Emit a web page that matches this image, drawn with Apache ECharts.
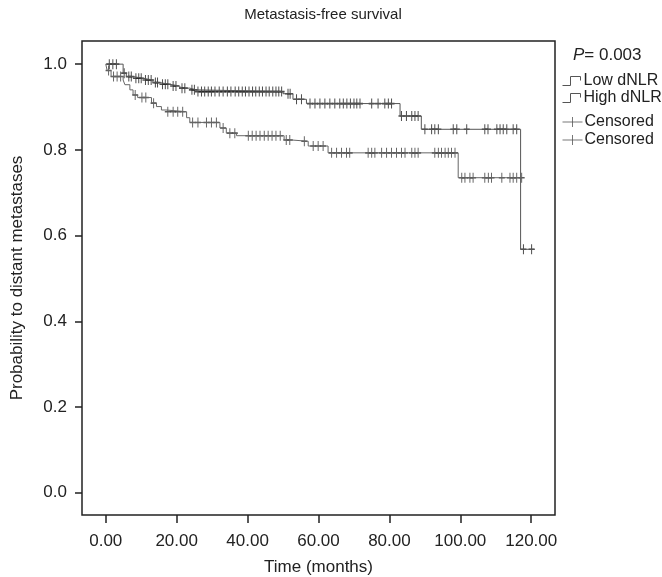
<!DOCTYPE html>
<html>
<head>
<meta charset="utf-8">
<script src="https://cdn.jsdelivr.net/npm/echarts@6/dist/echarts.min.js"></script>
<style>
  html, body { margin: 0; padding: 0; background: #fff; }
  #chart { width: 662px; height: 577px; }
</style>
</head>
<body>
<div id="chart"></div>
<script>
  // step points: [time, survival after the step]
  var lowSteps = [[0, 1.0], [4.9, 0.979], [5.8, 0.971], [7.7, 0.967], [10.5, 0.963], [13.3, 0.957], [15.2, 0.953],
    [18.0, 0.949], [20.9, 0.944], [23.7, 0.940], [25.6, 0.936], [50.0, 0.931], [52.8, 0.918], [56.6, 0.908],
    [83.0, 0.879], [89.0, 0.848], [117.0, 0.568], [121.0, 0.568]];
  var highSteps = [[0, 1.0], [0.4, 0.985], [1.5, 0.971], [4.9, 0.963], [5.4, 0.952], [6.8, 0.940], [7.7, 0.928],
    [9.0, 0.922], [12.9, 0.909], [14.3, 0.901], [15.7, 0.893], [17.0, 0.889], [22.8, 0.875], [23.7, 0.864],
    [32.2, 0.851], [34.0, 0.839], [36.9, 0.833], [50.3, 0.823], [52.5, 0.820], [57.1, 0.809], [62.7, 0.793],
    [99.4, 0.735], [117.3, 0.735]];
  // censoring times
  var lowCensored = [1.0, 2.0, 3.0, 5.2, 6.5, 7.2, 8.5, 9.3, 10.0, 11.2, 12.0, 12.8, 14.0, 14.6, 16.0, 16.8, 17.5,
    19.0, 19.8, 21.5, 22.3, 24.3, 25.0, 26.0, 27.0, 27.9, 28.9, 29.8, 30.8, 32.0, 33.1, 34.3, 35.3, 36.5, 37.5,
    38.5, 39.4, 40.4, 41.4, 42.3, 43.3, 44.2, 45.2, 46.1, 47.1, 48.0, 48.8, 49.6, 51.4, 52.0, 53.8, 55.2, 57.6,
    59.0, 60.4, 61.8, 63.2, 64.6, 66.0, 67.0, 68.0, 69.0, 70.0, 70.8, 71.7, 75.0, 76.8, 78.7, 79.7, 80.6, 83.4,
    84.8, 86.3, 87.2, 88.1, 90.0, 91.9, 92.8, 93.8, 98.0, 99.0, 101.8, 106.9, 107.8, 110.3, 111.2, 112.1, 113.1,
    114.9, 115.9, 117.8, 120.1];
  var highCensored = [0.8, 2.2, 3.2, 4.2, 8.3, 10.2, 11.3, 13.5, 17.5, 19.0, 20.3, 21.7, 24.5, 26.0, 28.4, 29.8,
    31.2, 33.1, 35.0, 36.4, 40.2, 41.3, 42.4, 43.5, 44.7, 45.8, 46.9, 48.0, 49.2, 50.9, 51.9, 56.0, 58.5, 59.9,
    61.3, 63.7, 65.1, 66.5, 67.9, 68.8, 74.0, 75.0, 75.9, 77.8, 79.2, 80.6, 82.0, 83.4, 84.4, 86.3, 87.2, 88.1,
    92.8, 93.8, 94.7, 95.7, 96.6, 97.5, 98.5, 100.4, 101.3, 102.7, 103.6, 106.9, 107.9, 108.8, 111.7, 114.0,
    114.9, 115.9, 117.3];
  var xTicks = [0, 20, 40, 60, 80, 100, 120];
  var yTicks = [0, 0.2, 0.4, 0.6, 0.8, 1.0];

  // survival value at time t on a step curve
  function survAt(steps, t) {
    var s = steps[0][1];
    for (var i = 0; i < steps.length; i++) {
      if (steps[i][0] <= t) s = steps[i][1];
    }
    return s;
  }
  function censorPoints(steps, times) {
    return times.map(function (t) { return [t, survAt(steps, t)]; });
  }

  var font = 'Liberation Sans, Arial, sans-serif';
  var plusSymbol = 'path://M5,0 L5,10 M0,5 L10,5';

  var myChart = echarts.init(document.getElementById('chart'));
  myChart.setOption({
    animation: false,
    textStyle: { fontFamily: font },
    title: [
      {
        text: 'Metastasis-free survival',
        left: 318, top: 2, textAlign: 'center',
        textStyle: { fontSize: 15, fontWeight: 'normal', color: '#222', fontFamily: font }
      },
      {
        text: '{i|P}= 0.003',
        left: 568, top: 42,
        textStyle: {
          fontSize: 17, fontWeight: 'normal', color: '#222', fontFamily: font,
          rich: { i: { fontStyle: 'italic', fontSize: 17, color: '#222', fontFamily: font } }
        }
      }
    ],
    legend: [
      {
        data: ['Low dNLR', 'High dNLR'],
        orient: 'vertical', left: 555, top: 68, itemGap: 1,
        itemWidth: 22, itemHeight: 9,
        icon: 'path://M0,10 L8,10 L8,1 L18,1 L18,5',
        itemStyle: { color: 'none', borderColor: '#555', borderWidth: 1 },
        textStyle: { fontSize: 16, color: '#222', lineHeight: 16, padding: [0, 0, 0, -4] }
      },
      {
        data: ['Censored', 'Censored '],
        orient: 'vertical', left: 555, top: 109, itemGap: 2,
        itemWidth: 22, itemHeight: 10,
        icon: 'path://M0,5 L20,5 M10,0 L10,10',
        itemStyle: { color: 'none', borderColor: '#555', borderWidth: 1 },
        textStyle: { fontSize: 16, color: '#222', lineHeight: 16, padding: [0, 0, 0, -4] },
        formatter: function (n) { return n.trim(); }
      }
    ],
    grid: {
      left: 82, top: 41, right: 107, bottom: 62,
      outerBoundsMode: 'none', containLabel: false,
      show: true, borderColor: '#222', borderWidth: 1.5, backgroundColor: '#fff'
    },
    xAxis: {
      type: 'value', min: -6.7, max: 126.7,
      name: 'Time (months)', nameLocation: 'middle', nameGap: 44,
      nameTextStyle: { fontSize: 17, color: '#222' },
      axisLine: { show: false, onZero: false },
      axisTick: { show: true, length: 8, customValues: xTicks, lineStyle: { color: '#222', width: 1.5 } },
      axisLabel: {
        customValues: xTicks, fontSize: 17, color: '#222', margin: 18,
        formatter: function (v) { return v.toFixed(2); }
      },
      splitLine: { show: false }
    },
    yAxis: {
      type: 'value', min: -0.052, max: 1.054,
      name: 'Probability to distant metastases', nameLocation: 'middle', nameGap: 56,
      nameTextStyle: { fontSize: 17, color: '#222' },
      axisLine: { show: false, onZero: false },
      axisTick: { show: true, length: 7, customValues: yTicks, lineStyle: { color: '#222', width: 1.5 } },
      axisLabel: {
        customValues: yTicks, fontSize: 17, color: '#222', margin: 15,
        formatter: function (v) { return v.toFixed(1); }
      },
      splitLine: { show: false }
    },
    series: [
      {
        name: 'Low dNLR', type: 'line', step: 'end', data: lowSteps,
        showSymbol: false, lineStyle: { color: '#555', width: 1 },
        itemStyle: { color: '#555' }
      },
      {
        name: 'High dNLR', type: 'line', step: 'end', data: highSteps,
        showSymbol: false, lineStyle: { color: '#666', width: 1 },
        itemStyle: { color: '#666' }
      },
      {
        name: 'Censored', type: 'scatter', data: censorPoints(lowSteps, lowCensored),
        symbol: plusSymbol, symbolSize: [6, 10],
        itemStyle: { color: 'none', borderColor: '#222', borderWidth: 1.3 }
      },
      {
        name: 'Censored ', type: 'scatter', data: censorPoints(highSteps, highCensored),
        symbol: plusSymbol, symbolSize: [6, 10],
        itemStyle: { color: 'none', borderColor: '#333', borderWidth: 1.2 }
      }
    ]
  });
  window.onresize = myChart.resize;
</script>
</body>
</html>
